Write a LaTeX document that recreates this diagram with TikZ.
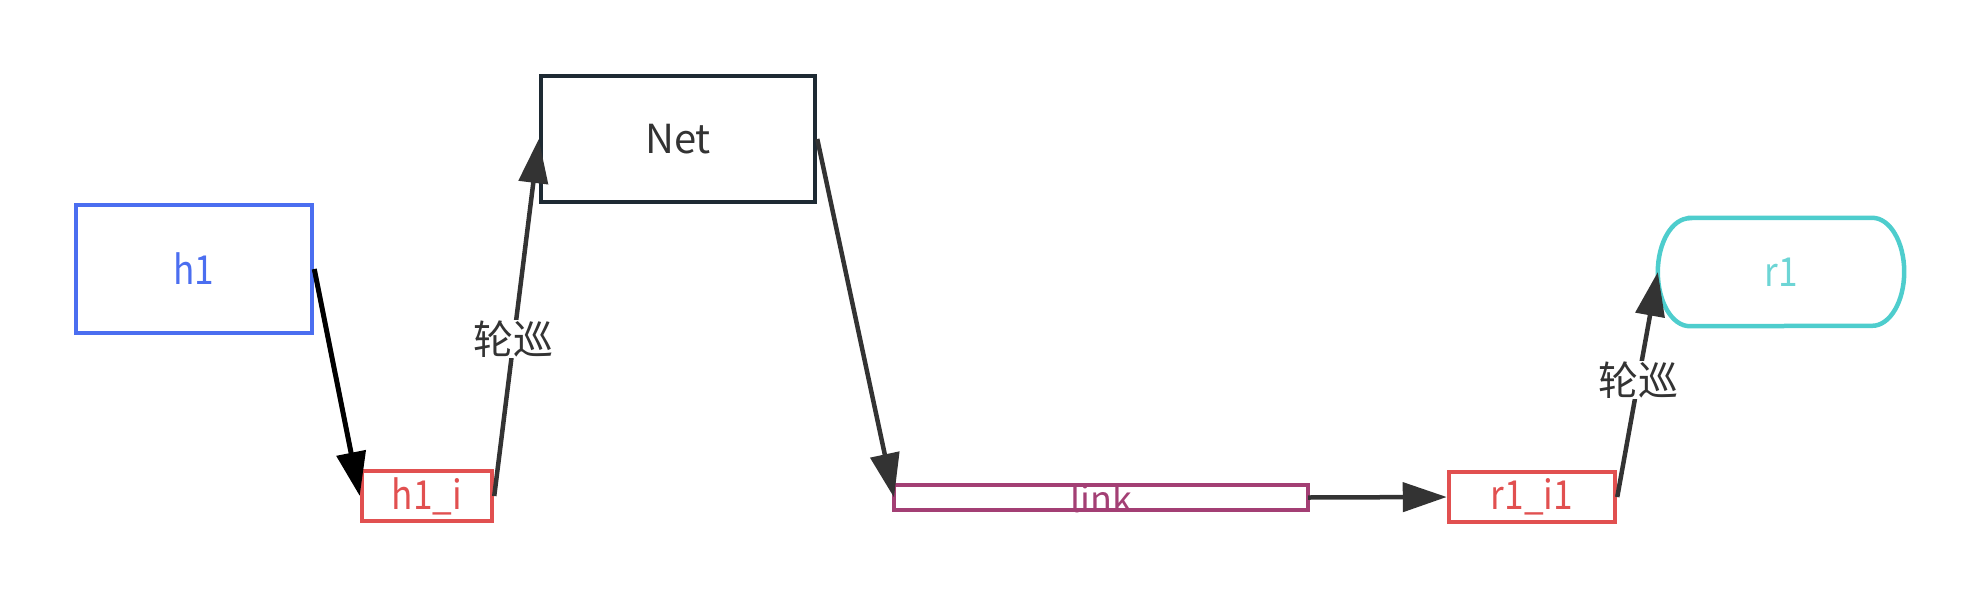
\documentclass[tikz,border=0pt]{standalone}
\usepackage{fontspec}
\setmainfont{Noto Sans CJK SC}
\usetikzlibrary{arrows.meta}
\definecolor{cblue}{HTML}{4B6EF0}
\definecolor{cdark}{HTML}{1E2A33}
\definecolor{ctext}{HTML}{333333}
\definecolor{cred}{HTML}{E15050}
\definecolor{cpurple}{HTML}{A33F74}
\definecolor{ccyan}{HTML}{4ECDCD}
\definecolor{ccyantext}{HTML}{6DD5D5}
\newcommand{\narrow}[1]{\scalebox{0.88}[1]{#1}}
\tikzset{
  box/.style={draw, line width=4.5pt, inner sep=0pt, font=\fontsize{40}{48}\selectfont},
  conn/.style={line width=4.5pt, draw=ctext, -{Triangle[length=44pt,width=29pt]}},
  lbl/.style={fill=white, inner sep=1pt, text=ctext, font=\fontsize{40}{48}\selectfont}
}
\begin{document}
\begin{tikzpicture}[x=1pt,y=-1pt]
\useasboundingbox (0,0) rectangle (1980,600);
\node[box, draw=cblue, text=cblue, minimum width=236pt, minimum height=128pt] (h1) at (194,269) {\narrow{h1}};
\node[box, draw=cred, text=cred, minimum width=130pt, minimum height=50pt] (h1i) at (427,496) {\narrow{h1\_i}};
\node[box, draw=cdark, text=ctext, minimum width=274pt, minimum height=126pt] (net) at (678,139) {Net};
\node[inner sep=0pt, outer sep=0pt, minimum width=414pt, minimum height=25pt] (link) at (1101,497.5) {};
\draw[cpurple, line width=4.5pt] (link.north west) rectangle (link.south east);
\node[text=cpurple, font=\fontsize{36}{44}\selectfont, inner sep=0pt, anchor=base] (linktext) at (1101,512) {link};
\draw[cpurple, line width=4.5pt] (link.south west) -- (link.south east);
\node[box, draw=cred, text=cred, minimum width=166pt, minimum height=50pt] (r1i1) at (1532,497) {\narrow{r1\_i1}};
\node[inner sep=0pt, minimum width=246pt, minimum height=108pt, text=ccyantext, font=\fontsize{40}{48}\selectfont] (r1) at (1781,272) {\narrow{r1}};
\draw[ccyan, line width=4.5pt] ([xshift=32pt]r1.north west) -- ([xshift=-32pt]r1.north east)
  arc[start angle=90, end angle=-90, x radius=32pt, y radius=54pt]
  -- ([xshift=32pt]r1.south west)
  arc[start angle=270, end angle=90, x radius=32pt, y radius=54pt] -- cycle;
\draw[conn, draw=black, fill=black, line width=5pt] (h1.east) -- (h1i.west);
\draw[conn, fill=ctext] (h1i.east) -- node[lbl, pos=0.44] {轮巡} (net.west);
\draw[conn, fill=ctext] (net.east) -- (link.west);
\draw[conn, fill=ctext] (link.east) -- (r1i1.west);
\draw[conn, fill=ctext] (r1i1.east) -- node[lbl, pos=0.52] {轮巡} (r1.west);
\end{tikzpicture}
\end{document}
